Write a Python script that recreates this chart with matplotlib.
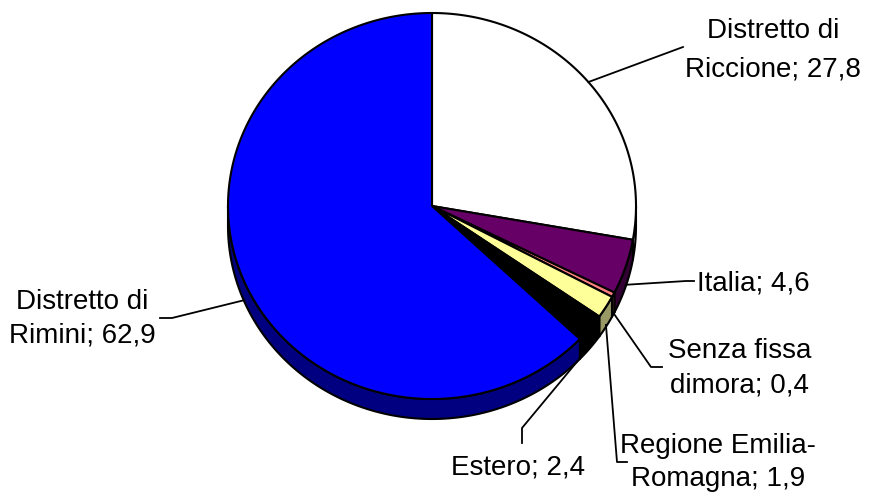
import numpy as np
import matplotlib
matplotlib.use("Agg")
import matplotlib.pyplot as plt
from matplotlib.patches import Polygon

plt.rcParams['font.family'] = ['Liberation Sans', 'DejaVu Sans']

# Provenienza (%) -- slices go clockwise starting from 12 o'clock
labels = ["Distretto di Riccione", "Italia", "Senza fissa dimora",
          "Regione Emilia-Romagna", "Estero", "Distretto di Rimini"]
values = [27.8, 4.6, 0.4, 1.9, 2.4, 62.9]
label_lines = [["Distretto di", "Riccione; 27,8"],
               ["Italia; 4,6"],
               ["Senza fissa", "dimora; 0,4"],
               ["Regione Emilia-", "Romagna; 1,9"],
               ["Estero; 2,4"],
               ["Distretto di", "Rimini; 62,9"]]
top_colors = ["#FFFFFF", "#660066", "#FF8080", "#FFFF99", "#000000", "#0000FF"]
side_colors = ["#C0C0C0", "#330033", "#804040", "#999966", "#000000", "#000080"]

W, H = 869, 497
fig = plt.figure(figsize=(W / 100, H / 100), dpi=100)
ax = fig.add_axes([0, 0, 1, 1])
ax.set_xlim(0, W)
ax.set_ylim(H, 0)
ax.axis("off")

# projected pie geometry (pixel space)
CX, CY = 432.0, 206.0
RX, RY = 204.0, 193.0
DEPTH = 20.0
LW = 1.5


def pt(t_deg, dy=0.0):
    t = np.radians(t_deg)
    return CX + RX * np.cos(t), CY - RY * np.sin(t) + dy


def arc(t0, t1, dy=0.0):
    n = max(3, int(abs(t1 - t0) * 2) + 2)
    ts = np.linspace(t0, t1, n)
    return [pt(t, dy) for t in ts]


total = sum(values)
bounds = []
start = 90.0
for v in values:
    end = start - 360.0 * v / total
    bounds.append((start, end))
    start = end

# side walls (front half only: angles between -180 and 0)
for (s, e), col in zip(bounds, side_colors):
    a0 = min(s, 0.0)
    a1 = max(e, -180.0)
    if a0 <= a1:
        continue
    top = arc(a0, a1)
    bot = arc(a1, a0, DEPTH)
    ax.add_patch(Polygon(top + bot, closed=True, facecolor=col,
                         edgecolor="black", linewidth=LW, joinstyle="round"))

# top faces
for (s, e), col in zip(bounds, top_colors):
    poly = [(CX, CY)] + arc(s, e)
    ax.add_patch(Polygon(poly, closed=True, facecolor=col,
                         edgecolor="black", linewidth=LW, joinstyle="round"))

# label layout: leader bend points, text anchor x, alignment and line centres
leader_paths = [
    [(683, 47)],
    [(686, 281), (694, 281)],
    [(651, 367), (662, 367)],
    [(617, 462), (627, 462)],
    [(522, 428), (522, 443)],
    [(172, 318), (160, 318)],
]
text_pos = [
    (773, "center", [31, 69]),
    (697, "left", [283]),
    (740, "center", [351, 385]),
    (718, "center", [446, 479]),
    (518, "center", [467]),
    (82, "center", [302, 335]),
]

FS = 20
for (s, e), path, (tx, ha, tys), lines in zip(bounds, leader_paths, text_pos, label_lines):
    mid = (s + e) / 2.0
    m = ((mid + 180) % 360) - 180
    dy = DEPTH * 0.9 if m < 0 else 0.0
    p0 = pt(mid, dy)
    xs = [p0[0]] + [p[0] for p in path]
    ys = [p0[1]] + [p[1] for p in path]
    ax.plot(xs, ys, color="black", linewidth=1.3)
    for ty, line in zip(tys, lines):
        ax.text(tx, ty, line, fontsize=FS, ha=ha, va="center",
                color="black")

fig.savefig("out.png", dpi=100)
